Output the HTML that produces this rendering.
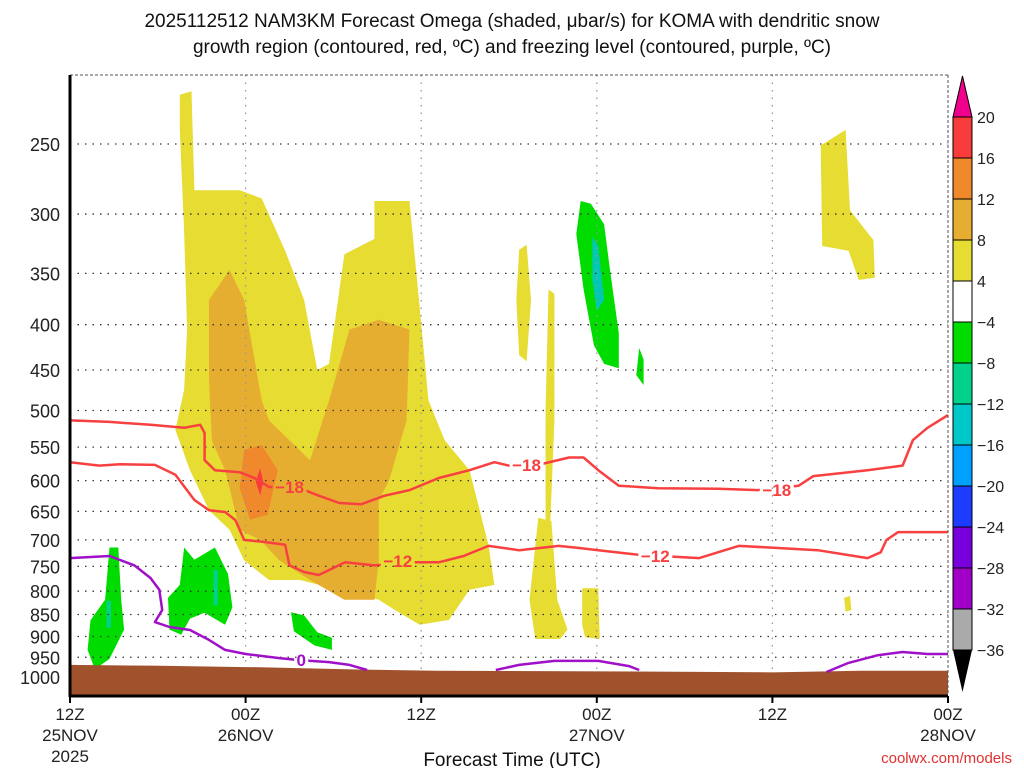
<!DOCTYPE html>
<html><head><meta charset="utf-8"><style>
body{margin:0;background:#fff;}
svg{display:block;font-family:"Liberation Sans",sans-serif;}
</style></head><body>
<svg id="chart" width="1024" height="768" viewBox="0 0 1024 768" xmlns="http://www.w3.org/2000/svg">
<text x="512" y="27" text-anchor="middle" font-size="19" fill="#111">2025112512 NAM3KM Forecast Omega (shaded, μbar/s) for KOMA with dendritic snow</text>
<text x="512" y="53" text-anchor="middle" font-size="19" fill="#111">growth region (contoured, red, ºC) and freezing level (contoured, purple, ºC)</text>
<defs>
<clipPath id="plotclip"><rect x="70" y="75" width="878" height="620"/></clipPath>
<mask id="lblmask" maskUnits="userSpaceOnUse" x="0" y="0" width="1024" height="768"><rect x="0" y="0" width="1024" height="768" fill="#fff"/><g id="maskholes"></g></mask>
</defs>
<g id="shade" clip-path="url(#plotclip)"></g>
<g id="grid"></g>
<g id="terrain" clip-path="url(#plotclip)"></g>
<g clip-path="url(#plotclip)"><g id="lines" mask="url(#lblmask)"></g></g>
<g id="labels"></g>
<g id="axes"></g>
<g id="cbar"></g>
<text x="512" y="766" text-anchor="middle" font-size="19" fill="#111">Forecast Time (UTC)</text>
<text x="1012" y="763" text-anchor="end" font-size="15" fill="#e03030">coolwx.com/models</text>
</svg>
<script>
const pressureTicks=[250,300,350,400,450,500,550,600,650,700,750,800,850,900,950,1000];
const timeTicks=[0,12,24,36,48,60];
const timeLabels=[["12Z","25NOV","2025"],["00Z","26NOV"],["12Z"],["00Z","27NOV"],["12Z"],["00Z","28NOV"]];
const cbarLevels=[20,16,12,8,4,-4,-8,-12,-16,-20,-24,-28,-32,-36];
const cbarColors=["#f83c3c","#f0882c","#e6ae30","#e6dc32","#ffffff","#00dc00","#00d28c","#00c8c8","#00a0ff","#1e3cff","#7800dc","#a000c8","#aaaaaa"];
const yellowMain=[[7.5,220],[8.3,218],[8.5,282],[11.6,282],[13.1,288],[14.7,330],[16.0,375],[16.9,450],[17.7,443],[18.75,333],[20.8,320],[20.8,290],[23.2,290],[24.5,487],[25.6,540],[27.3,584],[28,648],[28.6,710],[29,787],[27.3,797],[25.9,862],[23.9,873],[22.2,840],[21.1,818],[18.4,797],[15.7,777],[13.6,777],[11.9,738],[10.9,682],[9.5,648],[8.2,584],[7.2,526],[7.8,474],[8,405],[7.8,313],[7.5,241]];
const yellowTopRight=[[51.3,251],[53,241],[53.3,297],[54.9,321],[55,354],[53.9,356],[53.2,330],[51.4,326]];
const yellowThin1=[[30.7,329],[31.2,325],[31.5,375],[31.2,440],[30.7,433],[30.5,375]];
const yellowThin2=[[32.7,365],[33.1,369],[33.1,513],[32.8,682],[32.5,666],[32.5,497]];
const yellowLow1=[[32,661],[32.9,667],[33.3,818],[34,884],[33.5,906],[31.8,906],[31.4,818]];
const yellowLow2=[[35,794],[36.1,794],[36.2,906],[35.2,902],[35,873]];
const yellowDot=[[52.9,814],[53.3,810],[53.4,840],[53,844]];
const orangeMain=[[9.5,375],[10.9,347],[11.9,375],[13.1,487],[13.6,513],[16.4,569],[17.7,487],[19.1,405],[21.1,395],[23.2,405],[23,513],[21.8,600],[21.1,631],[21.1,738],[20.8,818],[18.75,818],[16.4,777],[14.3,738],[13,700],[11.6,682],[10.6,584],[9.7,541],[9.5,462]];
const darkOrange=[[11.9,554],[13.1,547],[14.2,584],[13.5,656],[12.3,664],[11.6,612]];
const redCore=[[13,581],[13.2,602],[13,623],[12.7,602]];
const greenLeft=[[2.7,714],[3.3,714],[3.5,818],[3.7,884],[2.7,954],[1.7,980],[1.2,932],[1.4,863],[2.4,818]];
const tealLeft=[[2.5,820],[2.8,820],[2.8,880],[2.5,880]];
const greenMid=[[7.8,714],[8.5,737],[9.9,714],[10.8,765],[11.1,834],[10.6,873],[9.2,846],[8.2,859],[7.6,896],[6.8,884],[6.7,814],[7.5,787],[7.7,738]];
const tealMid=[[9.8,757],[10.1,757],[10.1,830],[9.8,830]];
const greenLow=[[15.1,845],[16,852],[16.9,890],[17.9,903],[17.9,932],[16.7,921],[15.3,888]];
const greenTop=[[34.9,290],[35.6,292],[36.5,308],[36.9,347],[37.5,409],[37.5,448],[36.5,443],[35.8,422],[35.1,365],[34.6,316]];
const tealTop=[[35.7,318],[36.1,326],[36.5,375],[36,386],[35.7,356]];
const greenSmall=[[38.9,425],[39.2,438],[39.2,468],[38.7,456]];
const terrainHours=[0,5.5,13,20,25,40,48,54,60];
const terrainP=[969,971,975,981,984,986,988,984,984];
const c18Hours=[0,2.7,5.5,7.8,8.9,9.2,9.2,9.9,11.6,12.6,13.6,15.7,17,18.4,19.9,21.5,23.2,25.2,27.3,29,30,32,34.1,35.1,36.1,37.5,40.2,44.3,47,49.8,50.8,54.5,56.9,57.6,58.6,60];
const c18P=[513,515,519,523,519,530,569,584,587,596,610,612,624,636,638,624,615,596,584,572,577,576,565,565,584,608,612,613,615,608,593,584,577,540,523,506];
const c12Hours=[0,2,3.4,5.8,7.2,8.5,9.5,10.6,11.3,11.9,13.3,14.7,15,16,17,18.8,20.8,23.2,25.2,26.9,28.6,30.7,33.4,34.8,36.1,38.9,41.6,43,45.7,48.4,51.1,54.5,55.4,55.8,56.6,60];
const c12P=[572,577,575,576,591,631,648,651,665,700,704,709,748,761,767,742,748,742,742,730,711,719,711,715,719,728,732,734,711,715,719,734,723,700,686,686];
const f0aHours=[0,2.7,4.4,5.5,6.1,6.3,5.8,6.8,8.2,9.5,10.6,12,14.3,15.7,17.7,19.1,20.3];
const f0aP=[734,730,748,773,797,840,867,878,885,908,932,942,952,957,962,969,982];
const f0bHours=[29.1,30.7,33.1,36.1,38.2,38.9];
const f0bP=[982,969,959,959,972,982];
const f0cHours=[51.7,53.2,55.2,56.9,58.6,60];
const f0cP=[987,964,945,937,942,942];
const c18Labels=[[15,610],[31.2,576],[48.3,615]];
const c12Labels=[[22.4,740],[40,730]];
const f0Labels=[[15.8,957]];

const NS="http://www.w3.org/2000/svg";
const X=h=>70+h*(878/60);
const Y=p=>677-384.5*Math.log(1000/p);
function mk(tag,attrs,parent){const e=document.createElementNS(NS,tag);for(const k in attrs)e.setAttribute(k,attrs[k]);parent.appendChild(e);return e;}
const shade=document.getElementById('shade');
function poly(arr,color,name){
  const e=mk('polygon',{points:arr.map(d=>X(d[0]).toFixed(1)+','+Y(d[1]).toFixed(1)).join(' '),fill:color},shade);
  
  
}
poly(yellowMain,'#e6dc32','omega-4-8-main');
poly(yellowTopRight,'#e6dc32','omega-4-8-upper-right');
poly(yellowThin1,'#e6dc32','omega-4-8-thin-a');
poly(yellowThin2,'#e6dc32','omega-4-8-thin-b');
poly(yellowLow1,'#e6dc32','omega-4-8-low-a');
poly(yellowLow2,'#e6dc32','omega-4-8-low-b');
poly(yellowDot,'#e6dc32','omega-4-8-dot');
poly(orangeMain,'#e6ae30','omega-8-12');
poly(darkOrange,'#f0882c','omega-12-16');
poly(redCore,'#f83c3c','omega-16-20');
poly(greenLeft,'#00dc00','omega-neg-left');
poly(tealLeft,'#00d28c','omega-neg8-left');
poly(greenMid,'#00dc00','omega-neg-mid');
poly(tealMid,'#00d28c','omega-neg8-mid');
poly(greenLow,'#00dc00','omega-neg-low');
poly(greenTop,'#00dc00','omega-neg-top');
poly(tealTop,'#00c8b4','omega-neg12-top');
poly(greenSmall,'#00dc00','omega-neg-small');

const grid=document.getElementById('grid');
pressureTicks.forEach(p=>{
  const l=mk('line',{x1:70,x2:948,y1:Y(p),y2:Y(p),stroke:'#333','stroke-width':1.3,'stroke-dasharray':'1.5 6'},grid);
  
  
});
timeTicks.slice(1,5).forEach(h=>{
  const l=mk('line',{x1:X(h),x2:X(h),y1:75,y2:695,stroke:'#999','stroke-width':1.3,'stroke-dasharray':'1.5 6'},grid);
  
  
});

const terr=document.getElementById('terrain');
let tp='M'+X(terrainHours[0])+',700 ';
terrainHours.forEach((h,i)=>{tp+='L'+X(h)+','+Y(terrainP[i])+' ';});
tp+='L'+X(60)+',700 Z';
const tpath=mk('path',{d:tp,fill:'#a0522d'},terr);



const lines=document.getElementById('lines');
function line(hs,ps,color,name){
  const e=mk('polyline',{points:hs.map((h,i)=>X(h).toFixed(1)+','+Y(ps[i]).toFixed(1)).join(' '),fill:'none',stroke:color,'stroke-width':2.5,'stroke-linejoin':'round'},lines);
  
  
}
line(c18Hours,c18P,'#f84040','contour-minus18');
line(c12Hours,c12P,'#f84040','contour-minus12');
line(f0aHours,f0aP,'#a010c8','freezing-level-a');
line(f0bHours,f0bP,'#a010c8','freezing-level-b');
line(f0cHours,f0cP,'#a010c8','freezing-level-c');
const holes=document.getElementById('maskholes');
const labels=document.getElementById('labels');
function clabel(arr,txt,color,name,w){
  arr.forEach(d=>{
    mk('rect',{x:X(d[0])-w/2,y:Y(d[1])-9,width:w,height:18,fill:'#000'},holes);
    const t=mk('text',{x:X(d[0]),y:Y(d[1])+6,'text-anchor':'middle','font-size':17,'font-weight':'bold',fill:color},labels);
    t.textContent=txt;
    
    
  });
}
clabel(c18Labels,'−18','#f84040','label-minus18',34);
clabel(c12Labels,'−12','#f84040','label-minus12',34);
clabel(f0Labels,'0','#a010c8','label-zero',14);

const axes=document.getElementById('axes');
mk('line',{x1:70,x2:948,y1:75,y2:75,stroke:'#555','stroke-width':1,'stroke-dasharray':'3 2'},axes);
mk('line',{x1:948,x2:948,y1:75,y2:695,stroke:'#555','stroke-width':1,'stroke-dasharray':'3 2'},axes);
mk('line',{x1:70,x2:70,y1:75,y2:697,stroke:'#000','stroke-width':3},axes);
mk('line',{x1:69,x2:948,y1:696,y2:696,stroke:'#000','stroke-width':3},axes);
pressureTicks.forEach(p=>{
  const t=mk('text',{x:60,y:Y(p)+7,'text-anchor':'end','font-size':18,fill:'#222'},axes);
  t.textContent=p;
  
  
});
timeTicks.forEach((h,i)=>{
  mk('line',{x1:X(h),x2:X(h),y1:696,y2:703,stroke:'#000','stroke-width':2},axes);
  timeLabels[i].forEach((s,j)=>{
    const t=mk('text',{x:X(h),y:720+j*21,'text-anchor':'middle','font-size':17,fill:'#222'},axes);
    t.textContent=s;
    
    
  });
});

const cb=document.getElementById('cbar');
const cbTop=117,cbH=41,cbX=953,cbW=19;
cbarColors.forEach((c,i)=>{
  const r=mk('rect',{x:cbX,y:cbTop+i*cbH,width:cbW,height:cbH,fill:c,stroke:'#000','stroke-width':1},cb);
  
  
});
const tri1=mk('polygon',{points:`${cbX},${cbTop} ${cbX+cbW},${cbTop} ${cbX+cbW/2},76`,fill:'#f0008c',stroke:'#000','stroke-width':1},cb);


const bot=cbTop+cbarColors.length*cbH;
const tri2=mk('polygon',{points:`${cbX},${bot} ${cbX+cbW},${bot} ${cbX+cbW/2},692`,fill:'#000'},cb);


cbarLevels.forEach((v,i)=>{
  const t=mk('text',{x:977,y:cbTop+i*cbH+6,'font-size':16,fill:'#222'},cb);
  t.textContent=v<0?'−'+(-v):String(v);
  
  
});
</script>
</body></html>
